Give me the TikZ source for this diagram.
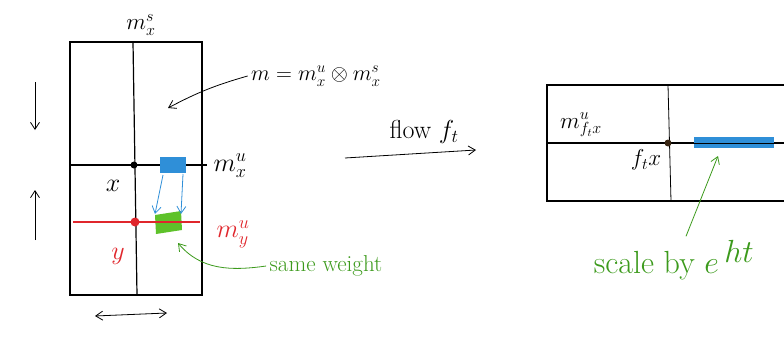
\RequirePackage{fix-cm}
\documentclass[tikz,border=0pt]{standalone}
\usetikzlibrary{arrows.meta,positioning}
\definecolor{unstcol}{HTML}{e0262c}
\definecolor{weightcol}{HTML}{3c9a1c}
\definecolor{leafcol}{HTML}{5ec22a}
\definecolor{boxcol}{HTML}{2f8fd8}
\tikzset{
  biglbl/.style={font=\fontsize{26}{30}\selectfont},
  midlbl/.style={font=\fontsize{23}{27}\selectfont}
}

\begin{document}
\begin{tikzpicture}[x=1pt,y=-1pt,font=\fontsize{20}{24}\selectfont,>={Straight Barb[length=7pt,width=9pt]}]
\useasboundingbox (0,0) rectangle (784,337);
% left chart
\draw[line width=1.2pt] (70,42) rectangle (202,295);
\draw[line width=1.2pt] (133,42) -- (137,295);
\draw[line width=1.2pt] (70,165) -- (207,165);
\fill[leafcol] (155,215) -- (181,211) -- (182,230) -- (156,234) -- cycle;
\draw[unstcol, line width=1.4pt] (73,222) -- (200,222);
\fill (134,165) circle (3.5);
\fill[unstcol] (135,222) circle (4.5);
\fill[boxcol] (160,157) rectangle (186,173);
\draw[boxcol, thick, ->] (163,175) -- (155,214);
\draw[boxcol, thick, ->] (183,174) -- (181,214);

\node[midlbl] (msx) at (141,25) {$m^s_x$};
\node[biglbl] (mux) at (230,166) {$m^u_x$};
\node[biglbl, unstcol] (muy) at (233,234) {$m^u_y$};
\node[biglbl] (xlab) at (113,186) {$x$};
\node[biglbl, unstcol] (ylab) at (118,256) {$y$};
\node[font=\fontsize{22}{26}\selectfont] (mdef) at (316,76) {$m=m^u_x\otimes m^s_x$};
\coordinate (mtip) at (168,108);
\draw[thick, ->] (mdef.west) to[bend right=6] (mtip);

\draw[thick, ->] (35,82) -- (35,130);
\draw[thick, ->] (35,240) -- (35,190);
\draw[thick, <->] (95,316) -- (167,313);

\node[midlbl, weightcol] (same) at (326,266) {same weight};
\coordinate (sametip) at (178,243);
\draw[weightcol, thick, ->] (same.west) to[out=188,in=-50] (sametip);

% flow
\node[biglbl] (flowlab) at (424,132) {flow $f_t$};
\coordinate (flowa) at (345,158);
\coordinate (flowb) at (476,150);
\draw[thick, ->] (flowa) -- (flowb);

% right chart
\draw[line width=1.2pt] (784,85) -- (547,85) -- (547,201) -- (784,201);
\draw[line width=0.8pt] (668,85) -- (671,201);
\draw[line width=1.2pt] (547,143) -- (784,143);
\fill[boxcol] (694,137) rectangle (774,148);
\draw[line width=0.8pt] (694,143) -- (774,143);
\fill[black!70!brown] (668,143) circle (3.5);
\node[midlbl] (mufx) at (581,125) {$m^u_{f_t x}$};
\node[midlbl] (ftx) at (646,160) {$f_t x$};
\node[weightcol, font=\fontsize{32}{36}\selectfont] (scale) at (674,260) {scale by $e^{\textstyle\,ht}$};
\coordinate (scalefoot) at ([xshift=12pt]scale.north);
\coordinate (scaletip) at (718,156);
\draw[weightcol, thick, ->] (scalefoot) -- (scaletip);
\end{tikzpicture}
\end{document}
